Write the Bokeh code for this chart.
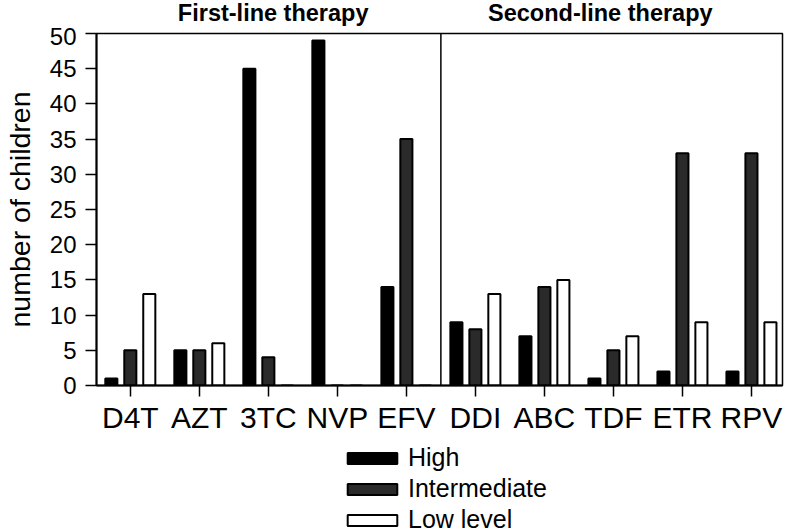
from bokeh.plotting import figure
from bokeh.models import (ColumnDataSource, FixedTicker, Label, Range1d,
                          Legend, LegendItem, Span)
from bokeh.layouts import column
from bokeh.transform import dodge
from bokeh.embed import file_html
from bokeh.resources import INLINE

drugs = ["D4T", "AZT", "3TC", "NVP", "EFV", "DDI", "ABC", "TDF", "ETR", "RPV"]
high = [1, 5, 45, 49, 14, 9, 7, 1, 2, 2]
intermediate = [5, 5, 4, 0, 35, 8, 14, 5, 33, 33]
low_level = [13, 6, 0, 0, 0, 13, 15, 7, 9, 9]
series_names = ["High", "Intermediate", "Low level"]
group_titles = ["First-line therapy", "Second-line therapy"]
y_ticks = [0, 5, 10, 15, 20, 25, 30, 35, 40, 45, 50]

FONT = "Liberation Sans"
xr = Range1d(-0.49, 9.45)

xs = list(range(len(drugs)))
src = ColumnDataSource(dict(x=xs, high=high, inter=intermediate, low=low_level))


def bare(fig):
    fig.outline_line_color = None
    fig.xgrid.visible = False
    fig.ygrid.visible = False
    fig.background_fill_color = "white"
    fig.border_fill_color = "white"


# ---- title strip
TOP_H = 27
pt = figure(width=792, height=TOP_H, output_backend="svg", toolbar_location=None,
            x_axis_type=None, y_axis_type=None, x_range=xr, y_range=Range1d(0, 1),
            min_border_left=96, min_border_right=10, min_border_top=0,
            min_border_bottom=0)
bare(pt)
for tx, txt in zip([2.07, 6.81], group_titles):
    pt.add_layout(Label(x=tx, y=0.544, text=txt, text_align="center",
                        text_baseline="alphabetic", text_font=FONT,
                        text_font_style="bold", text_font_size="23.5px",
                        text_color="black"))

# ---- main chart
p = figure(width=792, height=386 - TOP_H + 50, output_backend="svg",
           toolbar_location=None, x_range=xr, y_range=Range1d(0, 50),
           min_border_left=96, min_border_top=33 - TOP_H, min_border_bottom=50,
           min_border_right=10)
bare(p)
p.outline_line_color = "black"
p.outline_line_width = 1.5

bw = 0.175
fills = ["black", "#2a2a2a", "white"]
cols = ["high", "inter", "low"]
offs = [-0.275, 0.0, 0.275]
for col, off, fc in zip(cols, offs, fills):
    p.vbar(x=dodge("x", off, range=p.x_range), top=col, width=bw, bottom=0,
           source=src, fill_color=fc, line_color="black", line_width=2)

p.add_layout(Span(location=4.5, dimension="height", line_color="black", line_width=1.5))

p.xaxis.ticker = FixedTicker(ticks=xs)
p.xaxis.major_label_overrides = {i: d for i, d in zip(xs, drugs)}
p.yaxis.ticker = FixedTicker(ticks=y_ticks)
p.yaxis.axis_label = "number of children"

for ax in (p.xaxis[0], p.yaxis[0]):
    ax.axis_line_color = "black"
    ax.axis_line_width = 2
    ax.major_tick_line_color = "black"
    ax.major_tick_line_width = 1.5
    ax.major_tick_out = 11
    ax.major_tick_in = 0
    ax.minor_tick_line_color = None
    ax.major_label_text_font = FONT
    ax.major_label_text_color = "black"

p.xaxis.major_label_text_font_size = "30px"
p.xaxis.major_label_standoff = 4
p.yaxis.major_label_text_font_size = "24px"
p.yaxis.major_label_standoff = 9
p.yaxis.axis_label_text_font = FONT
p.yaxis.axis_label_text_font_size = "28.5px"
p.yaxis.axis_label_text_font_style = "normal"
p.yaxis.axis_label_text_color = "black"
p.yaxis.axis_label_standoff = 11

# ---- legend strip (hidden proxy renderers only feed the legend swatches)
p2 = figure(width=792, height=96, output_backend="svg", toolbar_location=None,
            x_axis_type=None, y_axis_type=None,
            x_range=xr, y_range=Range1d(0, 50),
            min_border_left=96, min_border_right=10, min_border_top=0,
            min_border_bottom=0)
bare(p2)
renderers = []
for col, fc in zip(cols, fills):
    r = p2.vbar(x="x", top=col, width=bw, bottom=0, source=src, fill_color=fc,
                line_color="black", line_width=2, visible=False)
    renderers.append(r)

lg = Legend(items=[LegendItem(label=n, renderers=[r]) for n, r in zip(series_names, renderers)],
            location=(245, -2), orientation="vertical")
lg.background_fill_alpha = 0
lg.border_line_color = None
lg.inactive_fill_alpha = 0
lg.padding = 0
lg.margin = 0
lg.spacing = 2
lg.glyph_width = 62
lg.glyph_height = 14
lg.label_height = 27
lg.label_standoff = 5
lg.label_text_font = FONT
lg.label_text_font_size = "25px"
lg.label_text_color = "black"
p2.add_layout(lg, "center")

layout = column(pt, p, p2, spacing=0)
open("out.html", "w").write(file_html(layout, INLINE))
